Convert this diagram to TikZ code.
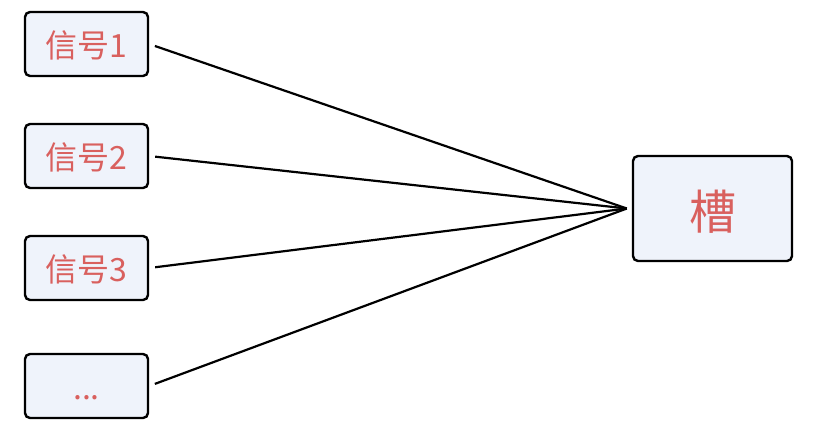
\documentclass[tikz,border=0pt]{standalone}
\usepackage{fontspec}
\setmainfont{Noto Sans CJK SC}
\definecolor{boxfill}{RGB}{239,243,251}
\definecolor{sigred}{RGB}{217,96,94}
\tikzset{
	sigbox/.style={draw, line width=2.4pt, rounded corners=5pt, fill=boxfill,
		text=sigred, minimum width=123pt, minimum height=64pt,
		font=\fontsize{32}{32}\selectfont, text height=29pt, text depth=3pt},
	slotbox/.style={sigbox, minimum width=159pt, minimum height=105pt,
		font=\fontsize{47}{47}\selectfont, text height=45pt, text depth=4pt},
	wire/.style={line width=2.2pt, shorten <=6pt}
}
\begin{document}
\begin{tikzpicture}[x=1pt,y=-1pt]
	\useasboundingbox (0,0) rectangle (816,437);

	% signals
	\node[sigbox] (sig1) at (86.5,44) {信号1};
	\node[sigbox] (sig2) at (86.5,156) {信号2};
	\node[sigbox] (sig3) at (86.5,268) {信号3};
	\node[sigbox] (sigN) at (86.5,386) {...};

	% slot
	\node[slotbox] (slot) at (712.5,208.5) {槽};
	\coordinate (join) at ([xshift=-5pt]slot.west);

	\draw[wire] (sig1.east) -- (join);
	\draw[wire] (sig2.east) -- (join);
	\draw[wire] (sig3.east) -- (join);
	\draw[wire] (sigN.east) -- (join);
\end{tikzpicture}
\end{document}
